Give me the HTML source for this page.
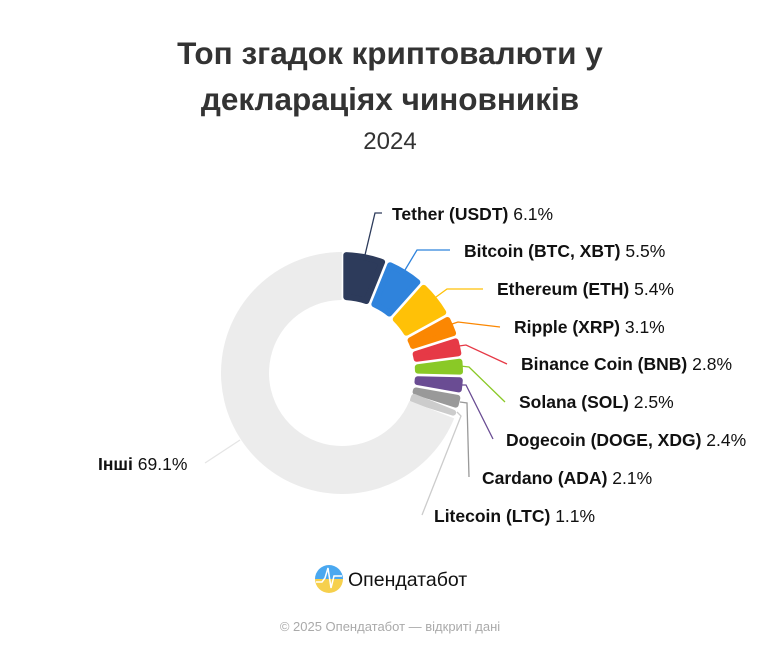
<!DOCTYPE html>
<html><head><meta charset="utf-8"><style>
html,body{margin:0;padding:0;background:#fff;}
body{width:780px;height:650px;overflow:hidden;position:relative;font-family:"Liberation Sans","DejaVu Sans",sans-serif;}
.t{position:absolute;left:0;width:780px;text-align:center;color:#333;}
</style></head><body>
<div class="t" style="top:30px;font-size:31.5px;font-weight:bold;line-height:46px;">Топ згадок криптовалюти у<br>деклараціях чиновників</div>
<div class="t" style="top:128px;font-size:24px;">2024</div>
<svg id="s" width="780" height="650" style="position:absolute;left:0;top:0" font-family="Liberation Sans, DejaVu Sans, sans-serif" font-size="17.5">
<g id="sl"></g>
<g fill="none" stroke-width="1.3">
<polyline points="365,255 375,213 382,213" stroke="#2d3b5b"/>
<polyline points="405,270 417,250 450,250" stroke="#2f83dc"/>
<polyline points="436,297 447,289 483,289" stroke="#ffc107"/>
<polyline points="452,324 458,322 500,327" stroke="#fb8702"/>
<polyline points="459,346 466,345 507,364" stroke="#e63946"/>
<polyline points="460,366 469,367 505,402" stroke="#8ac926"/>
<polyline points="461,385 466,385 493,439" stroke="#6a4c93"/>
<polyline points="460,402 467,403 469,477" stroke="#999"/>
<polyline points="457,412 461,416 422,515" stroke="#ccc"/>
<polyline points="205,463 240,440" stroke="#e5e5e5"/>
</g>
<g fill="#111">
<text x="392" y="220"><tspan font-weight="bold">Tether (USDT)</tspan> 6.1%</text>
<text x="464" y="257"><tspan font-weight="bold">Bitcoin (BTC, XBT)</tspan> 5.5%</text>
<text x="497" y="295"><tspan font-weight="bold">Ethereum (ETH)</tspan> 5.4%</text>
<text x="514" y="333"><tspan font-weight="bold">Ripple (XRP)</tspan> 3.1%</text>
<text x="521" y="370"><tspan font-weight="bold">Binance Coin (BNB)</tspan> 2.8%</text>
<text x="519" y="408"><tspan font-weight="bold">Solana (SOL)</tspan> 2.5%</text>
<text x="506" y="446"><tspan font-weight="bold">Dogecoin (DOGE, XDG)</tspan> 2.4%</text>
<text x="482" y="484"><tspan font-weight="bold">Cardano (ADA)</tspan> 2.1%</text>
<text x="434" y="522"><tspan font-weight="bold">Litecoin (LTC)</tspan> 1.1%</text>
<text x="98" y="470"><tspan font-weight="bold">Інші</tspan> 69.1%</text>
</g>
<defs><linearGradient id="lg" x1="0" y1="0" x2="0" y2="1"><stop offset="0.5" stop-color="#4aa8f0"/><stop offset="0.5" stop-color="#f6d04d"/></linearGradient></defs>
<circle cx="329" cy="579" r="14" fill="url(#lg)"/>
<polyline points="316,582 322,582 325,578 328,568 331,588 334,576 342,576" fill="none" stroke="#fff" stroke-width="1.5"/>
<text x="348" y="586" font-size="19.5" fill="#111">Опендатабот</text>
<text x="390" y="631" font-size="13" fill="#aaa" text-anchor="middle">© 2025 Опендатабот — відкриті дані</text>
</svg>
<script>
var cx=342,cy=373,R=121,r=73;
var d=[[6.1,"#2d3b5b"],[5.5,"#2f83dc"],[5.4,"#ffc107"],[3.1,"#fb8702"],[2.8,"#e63946"],[2.5,"#8ac926"],[2.4,"#6a4c93"],[2.1,"#999999"],[1.1,"#cccccc"],[69.1,"#ececec"]];
var g=document.getElementById("sl"),a=0,h="";
function p(rad,ang){var t=ang*Math.PI/180;return (cx+rad*Math.sin(t)).toFixed(2)+","+(cy-rad*Math.cos(t)).toFixed(2);}
d.forEach(function(x,i){
 var a0=a*3.6,a1=(a+x[0])*3.6;a+=x[0];
 var other=i==9;
 var ins=other?0:3;
 var R2=R-ins,r2=r+ins;
 var gap=other?0.9:1.3+ins;
 var b0=a0+gap/R2*57.3,b1=a1-gap/R2*57.3,c0=a0+gap/r2*57.3,c1=a1-gap/r2*57.3;
 if(b1<b0){b1=b0=(a0+a1)/2;}
 var lg=(a1-a0)>180?1:0;
 var path="M"+p(R2,b0)+" A"+R2+","+R2+" 0 "+lg+" 1 "+p(R2,b1)+" L"+p(r2,c1)+" A"+r2+","+r2+" 0 "+lg+" 0 "+p(r2,c0)+" Z";
 h+='<path d="'+path+'" fill="'+x[1]+'" stroke="'+(other?'none':x[1])+'" stroke-width="6" stroke-linejoin="round"/>';
});
g.innerHTML=h;
</script>
</body></html>
